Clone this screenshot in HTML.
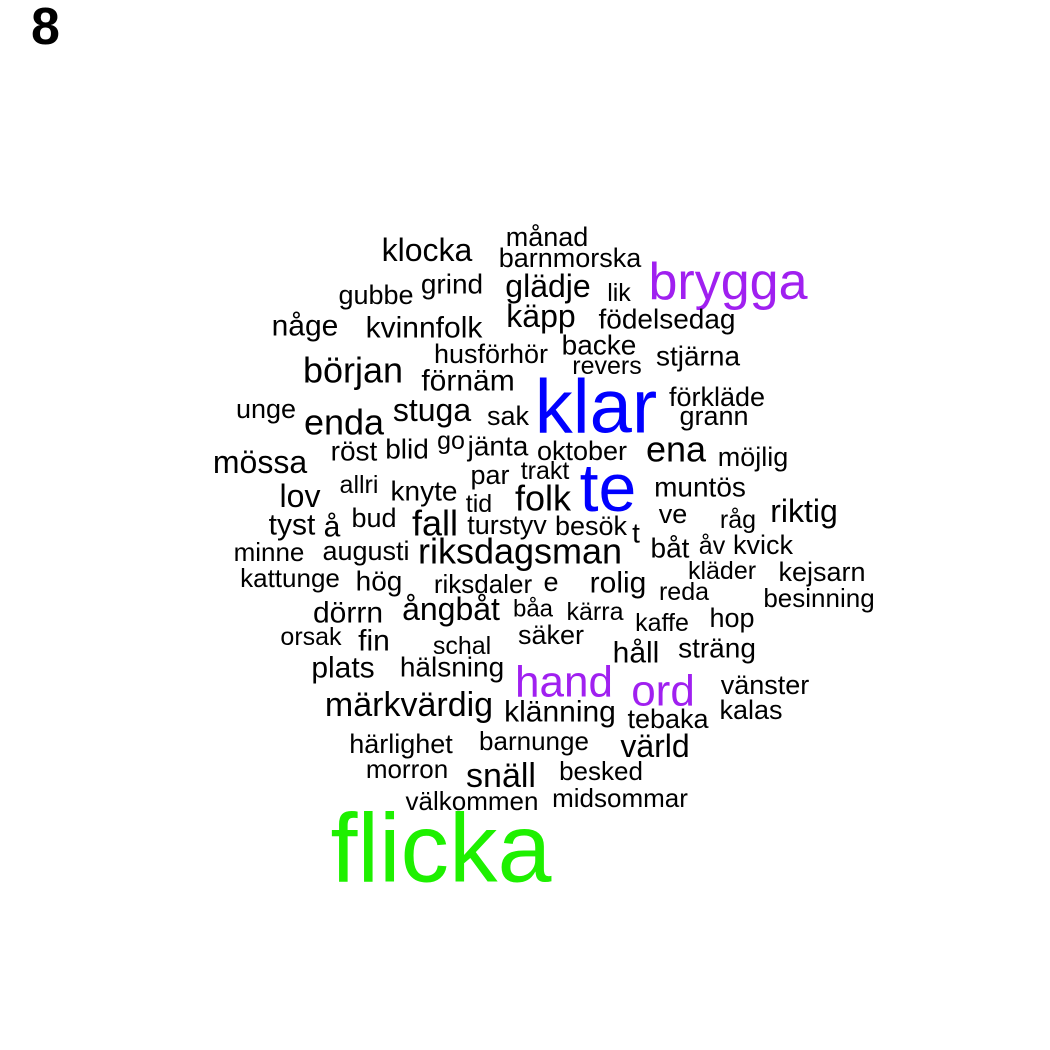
<!DOCTYPE html>
<html><head><meta charset="utf-8"><style>
html,body{margin:0;padding:0;background:#fff;}
svg{display:block;font-family:"Liberation Sans",Arial,sans-serif;}
</style></head><body>
<svg id="chart" width="1050" height="1050" viewBox="0 0 1050 1050" xmlns="http://www.w3.org/2000/svg">
<rect width="1050" height="1050" fill="#fff"/>
<text x="31" y="44" font-size="52" font-weight="bold" fill="#000">8</text>
<g id="words"></g>
</svg>
<script>
const words = ["månad","barnmorska","klocka","brygga","gubbe","grind","glädje","lik","någe","kvinnfolk","käpp","födelsedag","husförhör","backe","stjärna","revers","början","förnäm","klar","förkläde","grann","unge","enda","stuga","sak","mössa","röst","blid","go","jänta","oktober","ena","möjlig","te","par","trakt","lov","allri","knyte","tid","folk","muntös","tyst","å","bud","fall","turstyv","besök","t","ve","råg","riktig","minne","augusti","riksdagsman","båt","åv","kvick","kattunge","hög","riksdaler","e","rolig","kläder","reda","kejsarn","besinning","dörrn","ångbåt","båa","kärra","kaffe","hop","orsak","fin","schal","säker","håll","sträng","plats","hälsning","hand","ord","vänster","märkvärdig","klänning","tebaka","kalas","härlighet","barnunge","värld","morron","snäll","besked","välkommen","midsommar","flicka"];
const sizes = [27,27,32,52,27,28,32,25,30,30,32,28,27,28,28,25,36,30,76,27,27,27,36,32,27,32,28,28,25,28,27,36,27,68,27,25,32,25,28,25,36,28,30,30,27,36,27,27,28,27,25,32,26,27,36,28,25,27,26,28,26,27,30,25,25,27,26,30,32,24,25,25,27,25,30,25,27,30,28,30,28,44,44,27,34,30,27,27,27,26,32,26,34,26,26,26,97];
const colors = ["#000","#000","#000","#A020F0","#000","#000","#000","#000","#000","#000","#000","#000","#000","#000","#000","#000","#000","#000","#0000FF","#000","#000","#000","#000","#000","#000","#000","#000","#000","#000","#000","#000","#000","#000","#0000FF","#000","#000","#000","#000","#000","#000","#000","#000","#000","#000","#000","#000","#000","#000","#000","#000","#000","#000","#000","#000","#000","#000","#000","#000","#000","#000","#000","#000","#000","#000","#000","#000","#000","#000","#000","#000","#000","#000","#000","#000","#000","#000","#000","#000","#000","#000","#000","#A020F0","#A020F0","#000","#000","#000","#000","#000","#000","#000","#000","#000","#000","#000","#000","#000","#1EF000"];
const cx = [547,570,427,728,376,452,548,619,305,424,541,667,491,599,698,607,353,468,596,717,714,266,344,432,508,260,354,407,451,498,582,676,753,608,490,545,300,359,424,479,543,700,292,332,374,435,507,591,636,673,738,804,269,366,520,670,712,763,290,379,483,551,618,722,684,822,819,348,451,533,595,662,732,311,374,462,551,636,717,343,452,564,663,765,409,560,668,751,401,534,655,407,501,601,472,620,441];
const cy = [237,258,250,282,295,284,286,293,326,328,316,319,354,345,356,366,370,381,407,397,416,409,422,410,416,462,451,449,441,446,451,449,457,488,475,471,496,485,491,504,498,487,525,527,518,523,525,526,533,514,520,511,552,551,551,548,546,545,578,581,584,582,583,571,592,572,598,613,609,609,612,623,618,637,641,646,635,653,648,668,667,682,691,685,705,712,719,710,744,741,746,769,776,771,801,798,848];
const g = document.getElementById('words');
const NS = 'http://www.w3.org/2000/svg';
for (let i = 0; i < words.length; i++) {
  const t = document.createElementNS(NS, 'text');
  t.setAttribute('x', cx[i]);
  t.setAttribute('y', cy[i]);
  t.setAttribute('font-size', sizes[i]);
  t.setAttribute('fill', colors[i]);
  t.setAttribute('text-anchor', 'middle');
  t.setAttribute('dominant-baseline', 'central');
  t.textContent = words[i];
  
  
  g.appendChild(t);
}
</script>
</body></html>
